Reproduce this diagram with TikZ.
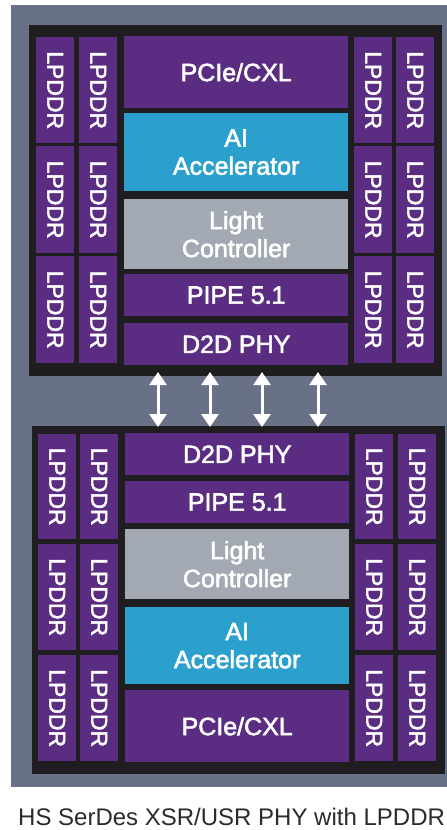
\documentclass[tikz,border=0pt]{standalone}
\usepackage{fontspec}
\usepackage{graphicx}
\setmainfont{Liberation Sans}
\newfontfamily\lblfont[FakeBold=2.2]{Liberation Sans}
\usetikzlibrary{arrows.meta}
\definecolor{bggray}{HTML}{687185}
\definecolor{chipdark}{HTML}{1F1D1F}
\definecolor{blkpurple}{HTML}{5B2D82}
\definecolor{aiblue}{HTML}{2CA0CD}
\definecolor{lcgray}{HTML}{A3A9B3}
\definecolor{captext}{HTML}{2B2B2B}
\tikzset{
  blk/.style={draw=none, inner sep=0pt, anchor=north west, text=white,
    font=\lblfont\fontsize{25}{28}\selectfont, align=center},
  pblk/.style={blk, fill=blkpurple},
  ablk/.style={blk, fill=aiblue},
  gblk/.style={blk, fill=lcgray},
  lp/.style={blk, fill=blkpurple, minimum width=38pt, font=\lblfont\fontsize{23}{26}\selectfont},
  chip/.style={draw=none, fill=chipdark, inner sep=0pt, anchor=north west},
  conn/.style={draw=white, line width=3pt,
    {Triangle[width=17pt,length=13pt]}-{Triangle[width=17pt,length=13pt]}},
}
\newcommand{\lpt}{\rotatebox{-90}{LPDDR}}
\begin{document}
\begin{tikzpicture}[x=1pt,y=-1pt]
\useasboundingbox (0,0) rectangle (447,830);
\fill[white] (0,0) rectangle (447,830);
\node[draw=none, fill=bggray, inner sep=0pt, anchor=north west, minimum width=436pt, minimum height=782pt] (bg) at (11,5) {};
% top chip
\node[chip, minimum width=413pt, minimum height=351pt] (chipT) at (29,25) {};
\node[lp, minimum height=106pt] (tl11) at (36,37) {\lpt};
\node[lp, minimum height=106pt] (tl12) at (79,37) {\lpt};
\node[lp, minimum height=107pt] (tl21) at (36,146) {\lpt};
\node[lp, minimum height=107pt] (tl22) at (79,146) {\lpt};
\node[lp, minimum height=107pt] (tl31) at (36,256) {\lpt};
\node[lp, minimum height=107pt] (tl32) at (79,256) {\lpt};
\node[lp, minimum height=106pt] (tr11) at (354,37) {\lpt};
\node[lp, minimum height=106pt] (tr12) at (396,37) {\lpt};
\node[lp, minimum height=107pt] (tr21) at (354,146) {\lpt};
\node[lp, minimum height=107pt] (tr22) at (396,146) {\lpt};
\node[lp, minimum height=107pt] (tr31) at (354,256) {\lpt};
\node[lp, minimum height=107pt] (tr32) at (396,256) {\lpt};
\node[pblk, minimum width=224pt, minimum height=72pt] (pcieT) at (124,36) {PCIe/CXL};
\node[ablk, minimum width=224pt, minimum height=78pt] (aiT) at (124,113) {AI\\Accelerator};
\node[gblk, minimum width=224pt, minimum height=70pt] (lcT) at (124,199) {Light\\Controller};
\node[pblk, minimum width=224pt, minimum height=42pt] (pipeT) at (124,274) {PIPE 5.1};
\node[pblk, minimum width=224pt, minimum height=42pt] (d2dT) at (124,323) {D2D PHY};
% bottom chip
\node[chip, minimum width=413pt, minimum height=348pt] (chipB) at (32,426) {};
\node[lp, minimum height=105pt] (bl11) at (38,434) {\lpt};
\node[lp, minimum height=105pt] (bl12) at (80,434) {\lpt};
\node[lp, minimum height=106pt] (bl21) at (38,544) {\lpt};
\node[lp, minimum height=106pt] (bl22) at (80,544) {\lpt};
\node[lp, minimum height=106pt] (bl31) at (38,655) {\lpt};
\node[lp, minimum height=106pt] (bl32) at (80,655) {\lpt};
\node[lp, minimum height=105pt] (br11) at (355,434) {\lpt};
\node[lp, minimum height=105pt] (br12) at (398,434) {\lpt};
\node[lp, minimum height=106pt] (br21) at (355,544) {\lpt};
\node[lp, minimum height=106pt] (br22) at (398,544) {\lpt};
\node[lp, minimum height=106pt] (br31) at (355,655) {\lpt};
\node[lp, minimum height=106pt] (br32) at (398,655) {\lpt};
\node[pblk, minimum width=224pt, minimum height=42pt] (d2dB) at (125,433) {D2D PHY};
\node[pblk, minimum width=224pt, minimum height=42pt] (pipeB) at (125,481) {PIPE 5.1};
\node[gblk, minimum width=224pt, minimum height=70pt] (lcB) at (125,529) {Light\\Controller};
\node[ablk, minimum width=224pt, minimum height=77pt] (aiB) at (125,607) {AI\\Accelerator};
\node[pblk, minimum width=224pt, minimum height=72pt] (pcieB) at (125,690) {PCIe/CXL};
% arrows
\foreach \i/\x in {1/158,2/210,3/262,4/318}{
  \coordinate (at\i) at (\x,372);
  \coordinate (ab\i) at (\x,427);
  \draw[conn] (at\i) -- (ab\i);
}
% caption
\node[anchor=base west, inner sep=0pt, text=captext, font=\fontsize{24}{28}\selectfont] (cap) at (18,825) {HS SerDes XSR/USR PHY with LPDDR};
\end{tikzpicture}
\end{document}
